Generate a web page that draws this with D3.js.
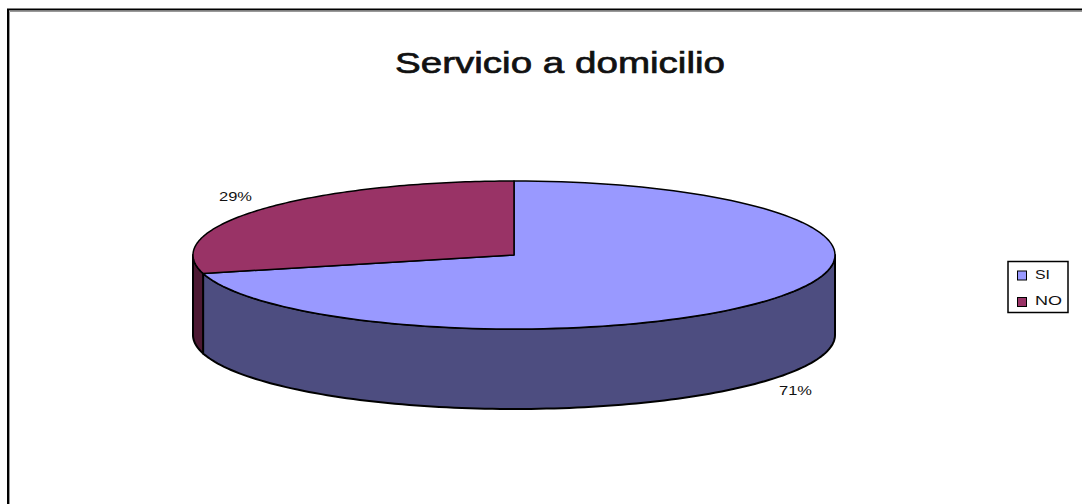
<!DOCTYPE html>
<html>
  <head>
    <meta charset="utf-8">
    <script src="https://d3js.org/d3.v7.min.js"></script>
    <style>
      html, body { margin: 0; padding: 0; background: #fff; overflow: hidden; }
      svg { display: block; }
      text { font-family: "Liberation Sans", Arial, sans-serif; fill: #111; }
    </style>
  </head>
  <body>
    <script>
      // chart data
      var title = "Servicio a domicilio";
      var categories = ["SI", "NO"];
      var values = [71, 29];
      var topColors = ["#9999ff", "#993366"];
      var sideColors = ["#4d4d80", "#4d1933"];

      var width = 1082, height = 504;
      var cx = 514, cy = 255, rx = 321, ry = 74, depth = 80;

      var svg = d3.select("body").append("svg")
          .attr("width", width)
          .attr("height", height);

      // outer frame, only top and left fit in the picture
      svg.append("path")
          .attr("d", "M9.5," + height + "V11.5H" + width)
          .attr("fill", "none")
          .attr("stroke", "#999")
          .attr("stroke-width", 1);
      svg.append("path")
          .attr("d", "M8," + height + "V9.5H" + width)
          .attr("fill", "none")
          .attr("stroke", "#000")
          .attr("stroke-width", 2);

      // the picture is stretched sideways, so the text is too
      svg.append("text")
          .attr("x", 395)
          .attr("y", 73)
          .attr("font-size", 30)
          .attr("textLength", 330)
          .attr("lengthAdjust", "spacingAndGlyphs")
          .attr("stroke", "#111")
          .attr("stroke-width", 0.7)
          .text(title);

      // pie angles, clockwise from 12 o'clock
      var arcs = d3.pie().sort(null)(values);

      // unit circle to the flattened ellipse
      var x = d3.scaleLinear().domain([-1, 1]).range([cx - rx, cx + rx]);
      var y = d3.scaleLinear().domain([-1, 1]).range([cy - ry, cy + ry]);

      function rim(a0, a1, drop) {
        return d3.range(0, 121).map(function(i) {
          var a = a0 + (a1 - a0) * i / 120;
          return [x(Math.sin(a)), y(-Math.cos(a)) + drop];
        });
      }
      var line = d3.line();

      // side walls: only the part of each slice on the front half shows
      arcs.forEach(function(d, i) {
        var a0 = Math.max(d.startAngle, Math.PI / 2);
        var a1 = Math.min(d.endAngle, Math.PI * 1.5);
        if (a1 <= a0) return;
        var pts = rim(a0, a1, 0).concat(rim(a1, a0, depth));
        svg.append("path")
            .attr("d", line(pts) + "Z")
            .attr("fill", sideColors[i])
            .attr("stroke", "#000")
            .attr("stroke-width", 2)
            .attr("stroke-linejoin", "round");
      });

      // top faces
      arcs.forEach(function(d, i) {
        var pts = [[x(0), y(0)]].concat(rim(d.startAngle, d.endAngle, 0));
        svg.append("path")
            .attr("d", line(pts) + "Z")
            .attr("fill", topColors[i])
            .attr("stroke", "#000")
            .attr("stroke-width", 1.5)
            .attr("stroke-linejoin", "round");
      });

      // percent labels, SI then NO
      var labelPos = [[779, 392], [219, 198]];
      arcs.forEach(function(d, i) {
        svg.append("text")
            .attr("x", labelPos[i][0])
            .attr("y", labelPos[i][1])
            .attr("dominant-baseline", "middle")
            .attr("font-size", 12)
            .attr("textLength", 33)
            .attr("lengthAdjust", "spacingAndGlyphs")
            .text(values[i] + "%");
      });

      // legend
      svg.append("rect")
          .attr("x", 1008)
          .attr("y", 261.5)
          .attr("width", 60)
          .attr("height", 51)
          .attr("fill", "#fff")
          .attr("stroke", "#000")
          .attr("stroke-width", 1.5);

      var legendY = d3.scalePoint().domain(categories).range([275.5, 302]);
      var legendTextW = [15, 27];
      categories.forEach(function(c, i) {
        svg.append("rect")
            .attr("x", 1017.5)
            .attr("y", legendY(c) - 4.5)
            .attr("width", 9)
            .attr("height", 9)
            .attr("fill", topColors[i])
            .attr("stroke", "#000")
            .attr("stroke-width", 1);
        svg.append("text")
            .attr("x", 1035)
            .attr("y", legendY(c))
            .attr("dominant-baseline", "middle")
            .attr("font-size", 13)
            .attr("textLength", legendTextW[i])
            .attr("lengthAdjust", "spacingAndGlyphs")
            .text(c);
      });
    </script>
  </body>
</html>
